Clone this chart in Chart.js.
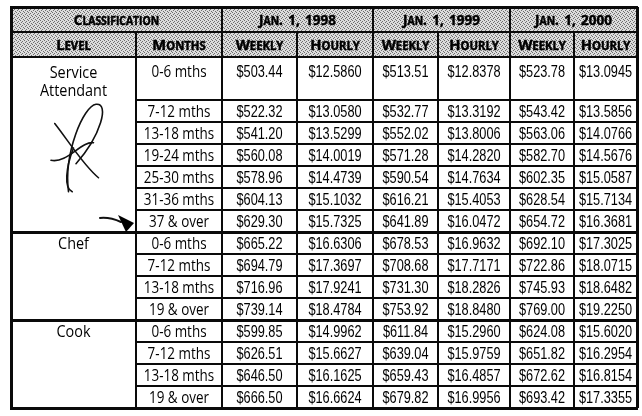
<!DOCTYPE html>
<html>
<head>
<meta charset="utf-8">
<script src="https://cdn.jsdelivr.net/npm/chart.js@4.4.1/dist/chart.umd.min.js"></script>
<style>
  html, body { margin: 0; padding: 0; background: #fff; }
  #wrap { width: 642px; height: 416px; }
</style>
</head>
<body>
<div id="wrap"><canvas id="rates"></canvas></div>
<script>
// table contents
const years = ['Jan. 1, 1998', 'Jan. 1, 1999', 'Jan. 1, 2000'];
const header_top = ['Classification'].concat(years);
const header_sub = ['Level', 'Months', 'Weekly', 'Hourly', 'Weekly', 'Hourly', 'Weekly', 'Hourly'];

const levels = ['Service Attendant', 'Chef', 'Cook'];
const level_rows = [7, 4, 4];
const months = [
  '0-6 mths', '7-12 mths', '13-18 mths', '19-24 mths', '25-30 mths', '31-36 mths', '37 & over',
  '0-6 mths', '7-12 mths', '13-18 mths', '19 & over',
  '0-6 mths', '7-12 mths', '13-18 mths', '19 & over'
];

const weekly_1998 = [503.44, 522.32, 541.20, 560.08, 578.96, 604.13, 629.30, 665.22, 694.79, 716.96, 739.14, 599.85, 626.51, 646.50, 666.50];
const hourly_1998 = [12.5860, 13.0580, 13.5299, 14.0019, 14.4739, 15.1032, 15.7325, 16.6306, 17.3697, 17.9241, 18.4784, 14.9962, 15.6627, 16.1625, 16.6624];
const weekly_1999 = [513.51, 532.77, 552.02, 571.28, 590.54, 616.21, 641.89, 678.53, 708.68, 731.30, 753.92, 611.84, 639.04, 659.43, 679.82];
const hourly_1999 = [12.8378, 13.3192, 13.8006, 14.2820, 14.7634, 15.4053, 16.0472, 16.9632, 17.7171, 18.2826, 18.8480, 15.2960, 15.9759, 16.4857, 16.9956];
const weekly_2000 = [523.78, 543.42, 563.06, 582.70, 602.35, 628.54, 654.72, 692.10, 722.86, 745.93, 769.00, 624.08, 651.82, 672.62, 693.42];
const hourly_2000 = [13.0945, 13.5856, 14.0766, 14.5676, 15.0587, 15.7134, 16.3681, 17.3025, 18.0715, 18.6482, 19.2250, 15.6020, 16.2954, 16.8154, 17.3355];

// layout (units of the hidden linear scales)
const col_widths = [125, 86, 75, 76, 65, 72, 64, 63];
const header_heights = [25, 25];
const first_row_height = 43;
const row_height = 22;

const series = [weekly_1998, hourly_1998, weekly_1999, hourly_1999, weekly_2000, hourly_2000];

const col_edges = [0];
col_widths.forEach(w => col_edges.push(col_edges[col_edges.length - 1] + w));
const row_edges = [0];
header_heights.forEach(h => row_edges.push(row_edges[row_edges.length - 1] + h));
months.forEach((m, i) => row_edges.push(row_edges[row_edges.length - 1] + (i === 0 ? first_row_height : row_height)));
const total_w = col_edges[col_edges.length - 1];
const total_h = row_edges[row_edges.length - 1];

const VALUE_FONT = '"Liberation Sans", Arial, sans-serif';
const LABEL_FONT = '"Open Sans", "Noto Sans", sans-serif';

function draw_text (ctx, s, x, y, font, sx) {
  ctx.save();
  ctx.font = font;
  ctx.textAlign = 'center';
  ctx.textBaseline = 'alphabetic';
  ctx.translate(x, y);
  ctx.scale(sx, 1);
  ctx.fillText(s, 0, 0);
  ctx.restore();
}

// lowercase letters become small capitals; spaces get some extra room
function draw_small_caps (ctx, text, cx, base, big, small, sx, extra_space) {
  const parts = [];
  let w = 0;
  for (const ch of text) {
    const low = ch !== ch.toUpperCase();
    const size = low ? small : big;
    ctx.font = 'bold ' + size + 'px ' + LABEL_FONT;
    const c = ch.toUpperCase();
    let cw = ctx.measureText(c).width;
    if (c === ' ') cw += extra_space;
    parts.push([c, size, cw]);
    w += cw;
  }
  ctx.save();
  ctx.translate(cx - w * sx / 2, base);
  ctx.scale(sx, 1);
  ctx.textAlign = 'left';
  ctx.textBaseline = 'alphabetic';
  ctx.lineWidth = 0.5;
  ctx.strokeStyle = '#000';
  let px = 0;
  for (const [c, size, cw] of parts) {
    ctx.font = 'bold ' + size + 'px ' + LABEL_FONT;
    ctx.fillText(c, px, 0);
    ctx.strokeText(c, px, 0);
    px += cw;
  }
  ctx.restore();
}

function make_dither (ctx) {
  const c = document.createElement('canvas');
  c.width = 4;
  c.height = 4;
  const p = c.getContext('2d');
  p.fillStyle = '#dcdcdc';
  p.fillRect(0, 0, 4, 4);
  p.fillStyle = '#6e6e6e';
  p.fillRect(0, 0, 1, 1);
  p.fillRect(2, 1, 1, 1);
  p.fillRect(1, 2, 1, 1);
  p.fillRect(3, 3, 1, 1);
  return ctx.createPattern(c, 'repeat');
}

const table_plugin = {
  id: 'table',
  afterDraw (chart) {
    const ctx = chart.ctx;
    const xs = chart.scales.x;
    const ys = chart.scales.y;
    const X = i => Math.round(xs.getPixelForValue(col_edges[i]));
    const Y = i => Math.round(ys.getPixelForValue(row_edges[i]));
    const ncol = col_widths.length;
    const nrow = row_edges.length - 1;

    ctx.save();
    // header shading
    ctx.fillStyle = make_dither(ctx);
    ctx.fillRect(X(0), Y(0), X(ncol) - X(0), Y(2) - Y(0));

    ctx.fillStyle = '#000';
    // header row 1
    const spans = [[0, 2], [2, 4], [4, 6], [6, 8]];
    spans.forEach((sp, i) => {
      const cx = (X(sp[0]) + X(sp[1])) / 2;
      draw_small_caps(ctx, header_top[i], cx, Y(1) - 7, 15, 11.5, 0.9, i === 0 ? 0 : 2);
    });
    // header row 2
    header_sub.forEach((h, i) => {
      const cx = (X(i) + X(i + 1)) / 2;
      draw_small_caps(ctx, h, cx, Y(2) - 7, 15, 11.5, 0.98, 0);
    });

    // body rows
    months.forEach((m, r) => {
      const top = Y(r + 2);
      const bot = Y(r + 3);
      const base = r === 0 ? top + 20 : Math.round((top + bot) / 2) + 6;
      draw_text(ctx, m, (X(1) + X(2)) / 2, base, '16px ' + LABEL_FONT, 0.84);
      series.forEach((s, j) => {
        const v = '$' + s[r].toFixed(j % 2 === 0 ? 2 : 4);
        draw_text(ctx, v, (X(j + 2) + X(j + 3)) / 2, base, '17px ' + VALUE_FONT, 0.75);
      });
    });

    // level names
    let start = 0;
    levels.forEach((lv, g) => {
      const top = Y(start + 2);
      const cx = (X(0) + X(1)) / 2;
      if (g === 0) {
        const words = lv.split(' ');
        draw_text(ctx, words[0], cx, top + 21, '16px ' + LABEL_FONT, 0.9);
        draw_text(ctx, words[1], cx, top + 39, '16px ' + LABEL_FONT, 0.9);
      } else {
        draw_text(ctx, lv, cx, top + 17, '16px ' + LABEL_FONT, 0.9);
      }
      start += level_rows[g];
    });

    // grid lines
    const hline = (x0, x1, y, w) => ctx.fillRect(x0, y - Math.floor(w / 2), x1 - x0, w);
    const vline = (x, y0, y1, w) => ctx.fillRect(x - Math.floor(w / 2), y0, w, y1 - y0);
    ctx.fillStyle = '#0a0a0a';
    hline(X(0), X(ncol), Y(1), 2);
    hline(X(0), X(ncol), Y(2), 2);
    let r0 = 2;
    level_rows.forEach((n, g) => {
      for (let k = 1; k < n; k++) hline(X(1), X(ncol), Y(r0 + k), 2);
      r0 += n;
      if (g < level_rows.length - 1) hline(X(0), X(ncol), Y(r0), 3);
    });
    [2, 4, 6].forEach(i => vline(X(i), Y(0), Y(1), 2));
    for (let i = 1; i < ncol; i++) vline(X(i), Y(1), Y(nrow), 2);
    // outer border
    hline(X(0) - 1, X(ncol) + 1, Y(0), 3);
    hline(X(0) - 1, X(ncol) + 1, Y(nrow), 3);
    vline(X(0), Y(0), Y(nrow), 3);
    vline(X(ncol), Y(0), Y(nrow), 3);

    // signature in the Service Attendant level cell
    const L = X(0), T = Y(2), W = X(1) - X(0), H = Y(9) - Y(2);
    const P = (fx, fy) => [L + fx * W, T + fy * H];
    ctx.strokeStyle = '#111';
    ctx.lineWidth = 1.6;
    ctx.lineCap = 'round';
    const curve = pts => {
      ctx.beginPath();
      ctx.moveTo(...P(pts[0][0], pts[0][1]));
      for (let k = 1; k + 2 < pts.length + 1; k += 3) {
        ctx.bezierCurveTo(...P(...pts[k]), ...P(...pts[k + 1]), ...P(...pts[k + 2]));
      }
      ctx.stroke();
    };
    curve([[0.46, 0.77], [0.42, 0.55], [0.58, 0.28], [0.68, 0.27], [0.79, 0.26], [0.72, 0.45], [0.52, 0.61]]);
    curve([[0.35, 0.38], [0.46, 0.48], [0.58, 0.62], [0.70, 0.69]]);
    curve([[0.32, 0.59], [0.45, 0.61], [0.56, 0.48], [0.66, 0.49]]);
    curve([[0.50, 0.52], [0.44, 0.63], [0.42, 0.75], [0.49, 0.77]]);

    // arrow pointing at the last Service Attendant row
    const ax = X(1), at = Y(8);
    ctx.lineWidth = 2;
    ctx.beginPath();
    ctx.moveTo(ax - 36, at + 8);
    ctx.quadraticCurveTo(ax - 26, at + 7, ax - 15, at + 12);
    ctx.stroke();
    ctx.fillStyle = '#000';
    ctx.beginPath();
    ctx.moveTo(ax - 18, at + 5);
    ctx.lineTo(ax - 2, at + 13);
    ctx.lineTo(ax - 10, at + 22);
    ctx.closePath();
    ctx.fill();
    ctx.restore();
  }
};

document.addEventListener('DOMContentLoaded', function () {
  const ctx = document.getElementById('rates').getContext('2d');
  new Chart(ctx, {
    type: 'scatter',
    data: { datasets: [{ data: [] }] },
    options: {
      responsive: true,
      maintainAspectRatio: false,
      animation: false,
      events: [],
      layout: { padding: { left: 11, right: 5, top: 7, bottom: 416 - 7 - total_h } },
      scales: {
        x: { type: 'linear', min: 0, max: total_w, display: false },
        y: { type: 'linear', min: 0, max: total_h, reverse: true, display: false }
      },
      plugins: { legend: { display: false }, tooltip: { enabled: false } }
    },
    plugins: [table_plugin]
  });
});
</script>
</body>
</html>
